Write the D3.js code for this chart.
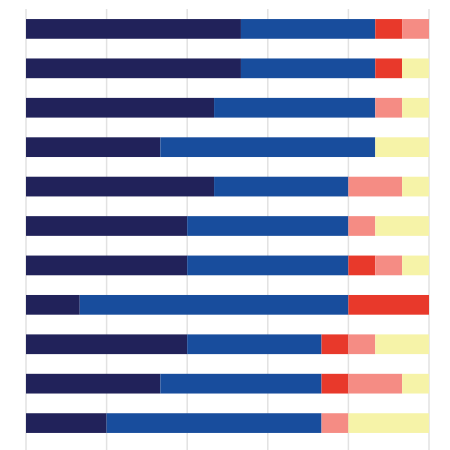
<!DOCTYPE html>
<html>
<head>
<meta charset="utf-8">
<script src="https://cdn.jsdelivr.net/npm/d3@7"></script>
<style>
  html, body { margin: 0; padding: 0; background: #fff; }
  svg { display: block; }
</style>
</head>
<body>
<svg id="chart" width="450" height="450"></svg>
<script>
const rows = ["R1","R2","R3","R4","R5","R6","R7","R8","R9","R10","R11"];
const seriesKeys = ["s1","s2","s3","s4","s5"];
const s1 = [8, 8, 7, 5, 7, 6, 6, 2, 6, 5, 3];
const s2 = [5, 5, 6, 8, 5, 6, 6, 10, 5, 6, 8];
const s3 = [1, 1, 0, 0, 0, 0, 1, 3, 1, 1, 0];
const s4 = [1, 0, 1, 0, 2, 1, 1, 0, 1, 2, 1];
const s5 = [0, 1, 1, 2, 1, 2, 1, 0, 2, 1, 3];
const gridTicks = [0, 3, 6, 9, 12, 15];
const colors = ["#21225a", "#184d9d", "#e8392b", "#f58c84", "#f6f3a8"];

const table = rows.map((r, i) => ({ row: r, s1: s1[i], s2: s2[i], s3: s3[i], s4: s4[i], s5: s5[i] }));

const svg = d3.select("#chart");
const x = d3.scaleLinear().domain([0, 15]).range([26, 429]);
const y = d3.scaleBand().domain(rows).range([9.2, 442.8]).paddingInner(0.5).paddingOuter(0.25);
const color = d3.scaleOrdinal().domain(seriesKeys).range(colors);

// gridlines
svg.append("g").selectAll("line").data(gridTicks).join("line")
  .attr("x1", d => x(d)).attr("x2", d => x(d))
  .attr("y1", 9).attr("y2", 450)
  .attr("stroke", "#e2e2e2").attr("stroke-width", 1.5);

const stack = d3.stack().keys(seriesKeys)(table);

svg.append("g").selectAll("g").data(stack).join("g")
  .attr("fill", d => color(d.key))
  .selectAll("rect").data(d => d.filter(p => p[1] > p[0])).join("rect")
  .attr("x", d => x(d[0]))
  .attr("y", d => y(d.data.row))
  .attr("width", d => x(d[1]) - x(d[0]))
  .attr("height", y.bandwidth());
</script>
</body>
</html>
